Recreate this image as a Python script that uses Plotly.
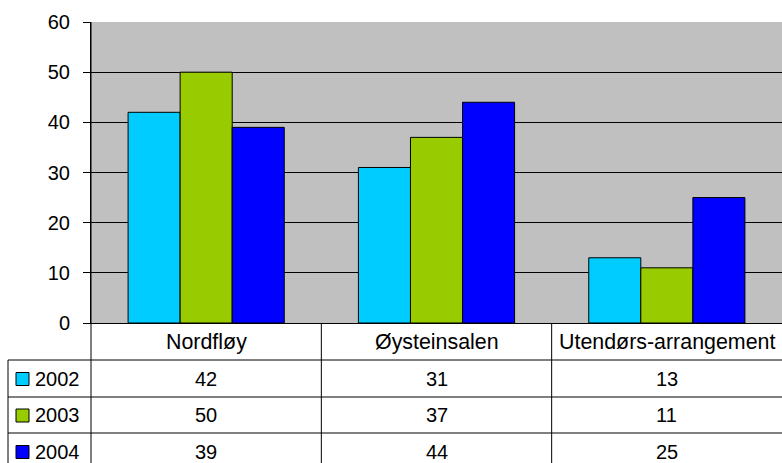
import plotly.graph_objects as go

categories = ["Nordfløy", "Øysteinsalen", "Utendørs-arrangement"]
years = ["2002", "2003", "2004"]
v2002 = [42, 31, 13]
v2003 = [50, 37, 11]
v2004 = [39, 44, 25]
y_ticks = [0, 10, 20, 30, 40, 50, 60]

series = [v2002, v2003, v2004]
colors = ["#00CCFF", "#99CC00", "#0000FF"]

W, H = 782, 463
L, T, B = 91, 22, 323  # plot area pixel edges
PH = B - T
PW = W - L


def py(p):
    return (B - p) / PH


def px(p):
    return (p - L) / PW


FONT = "Liberation Sans, Arial, sans-serif"

fig = go.Figure()
for yr, vals, col in zip(years, series, colors):
    fig.add_trace(go.Bar(
        x=categories, y=vals, name=yr,
        marker=dict(color=col, line=dict(color="black", width=1)),
        showlegend=False,
    ))

shapes = []
line = dict(color="black", width=1)
shapes.append(dict(type="line", xref="paper", yref="paper", x0=0, x1=0, y0=1, y1=py(470), line=line))
row_lines = [360, 397, 433]
for r in row_lines:
    shapes.append(dict(type="line", xref="paper", yref="paper", x0=px(8), x1=1, y0=py(r), y1=py(r), line=line))
shapes.append(dict(type="line", xref="paper", yref="paper", x0=px(8), x1=px(8), y0=py(360), y1=py(470), line=line))
for xb in [0.5, 1.5]:
    shapes.append(dict(type="line", xref="x", yref="paper", x0=xb, x1=xb, y0=0, y1=py(470), line=line))

annotations = []
header_c = 341.5
row_c = [378.5, 415, 451.5]
for i, c in enumerate(categories):
    annotations.append(dict(x=i, y=py(header_c), xref="x", yref="paper", text=c, showarrow=False,
                            font=dict(family=FONT, size=21.4, color="black"), xanchor="center", yanchor="middle"))
for ri, (yr, vals, col) in enumerate(zip(years, series, colors)):
    yc = row_c[ri]
    for i, v in enumerate(vals):
        annotations.append(dict(x=i, y=py(yc), xref="x", yref="paper", text=str(v), showarrow=False,
                                font=dict(family=FONT, size=20, color="black"), xanchor="center", yanchor="middle"))
    annotations.append(dict(x=px(33), y=py(yc), xref="paper", yref="paper", text=yr, showarrow=False,
                            font=dict(family=FONT, size=20, color="black"), xanchor="left", yanchor="middle"))
    shapes.append(dict(type="rect", xref="paper", yref="paper", x0=px(16), x1=px(29),
                       y0=py(yc + 7), y1=py(yc - 6), fillcolor=col, line=dict(color="black", width=1)))

fig.update_layout(
    width=W, height=H,
    margin=dict(l=L, r=0, t=T, b=H - B, pad=0),
    paper_bgcolor="white", plot_bgcolor="#C0C0C0",
    barmode="group", bargap=0.322, bargroupgap=0,
    font=dict(family=FONT, size=20, color="black"),
    shapes=shapes, annotations=annotations,
    xaxis=dict(range=[-0.5, 2.5], showticklabels=False, ticks="", showgrid=False,
               showline=True, linecolor="black", linewidth=1, zeroline=False, fixedrange=True),
    yaxis=dict(range=[0, 60], tickvals=y_ticks, ticks="outside", ticklen=7, tickcolor="black",
               tickfont=dict(family=FONT, size=20, color="black"), ticklabelstandoff=9,
               showgrid=True, gridcolor="black", gridwidth=1, zeroline=False,
               showline=True, linecolor="black", linewidth=1, fixedrange=True),
)

fig.write_html("out.html", config={"displayModeBar": False},
               post_script="document.body.style.margin='0';document.body.style.overflow='hidden';")
